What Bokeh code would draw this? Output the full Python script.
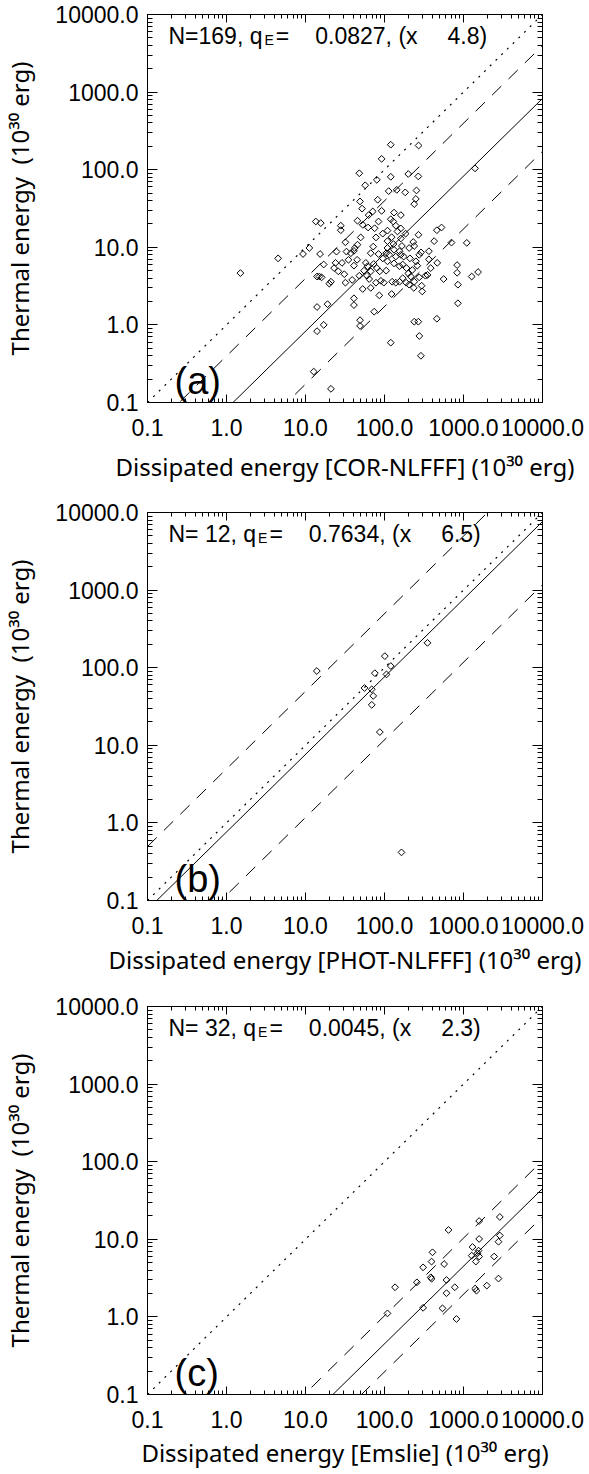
import numpy as np
from bokeh.plotting import figure
from bokeh.models import FixedTicker, LogAxis, CustomJSTickFormatter, Label, Range1d
from bokeh.layouts import column
from bokeh.embed import file_html
from bokeh.resources import INLINE

# ---------------- data ----------------
# panel (a): COR-NLFFF
a_x = [120, 270, 92, 1400, 48, 200, 268, 120, 80, 57,
       113, 143, 183, 254, 49, 82, 249, 238, 52, 71,
       92, 132, 161, 63, 13.5, 15.6, 28, 28, 45.5, 53,
       62, 84, 120, 129, 139, 146, 527, 460, 32, 50,
       78, 72, 45.5, 42, 123, 161, 109, 130, 166, 109,
       231, 238, 269, 425, 705, 1100, 11.2, 9.3, 15.3, 4.5,
       1.5, 24.7, 33, 37.5, 41, 67, 84, 105, 115, 139,
       161, 175, 210, 275, 365, 290, 365, 465, 830, 830,
       850, 850, 1270, 1530, 560, 350, 330, 275, 295, 300,
       235, 215, 200, 225, 190, 170, 155, 132, 109, 105,
       125, 139, 155, 123, 98, 90, 86, 74, 67, 53,
       48, 60, 64, 55, 61, 73, 58, 87, 41, 31,
       24, 29, 35, 17, 23, 26, 32, 39, 21, 20,
       15, 14, 16, 14, 19, 14, 17, 41, 41, 49,
       49, 12.7, 21, 120, 238, 268, 276, 289, 460, 188,
       170, 75, 95, 109, 161, 185, 132, 155, 205, 95,
       80, 67, 250, 260, 385, 238, 205, 45, 78]
a_y = [210, 205, 138, 104, 90, 88, 82, 81, 74, 63,
       53, 55, 51, 54, 39, 41, 42, 36, 31.5, 29,
       29.5, 28, 26, 26, 21.5, 20.5, 19, 16.6, 22, 19.5,
       18, 21.5, 23, 21.5, 19, 16, 18, 16.6, 11.6, 13.4,
       13.4, 10.2, 10.8, 9.8, 13.5, 13, 12, 11, 10.4, 9.8,
       11.7, 10.4, 14.5, 12, 11.5, 11.4, 9.8, 8.2, 8.2, 7.2,
       4.65, 8.8, 8.8, 8.4, 9.0, 8.4, 8.2, 8.4, 8.0, 7.6,
       8.0, 7.6, 7.2, 8.0, 8.9, 8.6, 7.0, 6.3, 5.9, 4.7,
       3.3, 1.9, 4.2, 4.8, 3.9, 4.4, 4.3, 4.1, 3.2, 2.7,
       3.0, 4.2, 4.6, 5.1, 5.4, 6.0, 5.7, 6.2, 6.6, 5.0,
       3.6, 3.5, 3.6, 2.5, 3.5, 3.7, 2.4, 1.48, 3.0, 2.9,
       4.3, 4.3, 3.9, 5.0, 5.7, 6.1, 6.3, 4.9, 5.8, 4.5,
       6.3, 6.3, 6.9, 6.0, 5.4, 4.9, 3.5, 3.8, 3.6, 3.4,
       4.2, 4.2, 4.1, 1.7, 1.85, 0.83, 1.0, 2.2, 1.8, 1.15,
       0.97, 0.25, 0.15, 0.59, 1.1, 1.1, 0.72, 0.40, 1.2, 3.5,
       4.0, 17.6, 15, 16.4, 17.5, 15, 9.3, 8.9, 9.8, 7.2,
       5.4, 4.9, 6.6, 5.8, 5.4, 3.6, 3.3, 6.9, 3.5]

# panel (b): PHOT-NLFFF
b_x = [13.9, 101, 120, 106, 75.5, 55.8, 69, 72, 69, 87.3, 350, 164]
b_y = [90.6, 141, 105, 82, 85, 54.8, 52.7, 43.3, 33.2, 14.8, 209, 0.417]

# panel (c): Emslie
c_x = [646, 1578, 2884, 1578, 2884, 2773, 1300, 1550, 1270, 1578,
       1432, 2444, 405, 394, 308, 569, 386, 394, 257, 609,
       136, 776, 609, 1406, 1460, 1973, 2773, 308, 542, 109,
       815, 1500]
c_y = [13.2, 17.2, 19.4, 10.1, 11.2, 9.3, 7.96, 7.15, 6.16, 6.0,
       5.16, 6.0, 6.8, 5.16, 4.35, 4.8, 3.24, 3.1, 2.79, 2.99,
       2.41, 2.41, 2.02, 2.32, 2.18, 2.53, 3.12, 1.31, 1.29, 1.11,
       0.94, 6.6]

q_E = [0.0827, 0.7634, 0.0045]          # ratio of the solid line
spread = [4.8, 6.5, 2.3]                  # factor of the dashed lines
x_titles = ["Dissipated energy [COR-NLFFF] (10\u00b3\u2070 erg)",
            "Dissipated energy [PHOT-NLFFF] (10\u00b3\u2070 erg)",
            "Dissipated energy [Emslie] (10\u00b3\u2070 erg)"]
y_title = "Thermal energy \u00a0(10\u00b3\u2070 erg)"
tags = ["(a)", "(b)", "(c)"]
major_ticks = [0.1, 1.0, 10.0, 100.0, 1000.0, 10000.0]

# ---------------- style ----------------
FONT = "Liberation Sans"
TITLE_FONT = "Noto Sans"
FW, FH = 395, 388
AX_MIN, AX_MAX = major_ticks[0], major_ticks[-1]
minor_ticks = [k * d for d in major_ticks[:-1] for k in range(2, 10)]

AW = {' ': 278, '\u00a0': 278, '(': 333, ')': 333, '[': 278, ']': 278, '-': 333,
      ',': 278, '.': 278, '=': 584,
      'A': 667, 'B': 667, 'C': 722, 'D': 722, 'E': 667, 'F': 611, 'G': 778,
      'H': 722, 'I': 278, 'J': 500, 'K': 667, 'L': 556, 'M': 833, 'N': 722,
      'O': 778, 'P': 667, 'Q': 778, 'R': 722, 'S': 667, 'T': 611, 'U': 722,
      'V': 667, 'W': 944, 'X': 667, 'Y': 667, 'Z': 611,
      'a': 556, 'b': 556, 'c': 500, 'd': 556, 'e': 556, 'f': 278, 'g': 556,
      'h': 556, 'i': 222, 'j': 222, 'k': 500, 'l': 222, 'm': 833, 'n': 556,
      'o': 556, 'p': 556, 'q': 556, 'r': 333, 's': 500, 't': 278, 'u': 556,
      'v': 500, 'w': 722, 'x': 500, 'y': 500, 'z': 500}


def tw(s, size):
    return sum(AW.get(ch, 556) for ch in s) / 1000.0 * size


def lab(p, text, x, y, size, align="left"):
    p.add_layout(Label(x=x, y=y, x_units="screen", y_units="screen", text=text,
                       text_font=FONT, text_font_size=f"{size}px", text_color="black",
                       text_align=align, text_baseline="alphabetic"))


def style_axis(ax, tin, mtin, labels):
    ax.ticker = FixedTicker(ticks=major_ticks, minor_ticks=minor_ticks)
    ax.axis_line_color = "black"
    ax.axis_line_width = 1
    ax.major_tick_in = tin
    ax.major_tick_out = 0
    ax.minor_tick_in = mtin
    ax.minor_tick_out = 0
    ax.major_tick_line_color = "black"
    ax.minor_tick_line_color = "black"
    ax.major_label_text_font = FONT
    ax.major_label_text_color = "black"
    ax.axis_label_text_font = TITLE_FONT
    ax.axis_label_text_font_style = "normal"
    ax.axis_label_text_color = "black"
    ax.axis_label_text_font_size = "24px"
    if labels:
        ax.formatter = CustomJSTickFormatter(code="return tick.toFixed(1)")
        ax.major_label_text_font_size = "23px"
    else:
        ax.formatter = CustomJSTickFormatter(code="return ''")
        ax.major_label_text_font_size = "8px"
        ax.major_label_standoff = 0


def panel(xs, ys, q, fac, xtitle, tag, top, bottom, title_gap):
    p = figure(x_axis_type="log", y_axis_type="log",
               x_range=Range1d(AX_MIN, AX_MAX), y_range=Range1d(AX_MIN, AX_MAX),
               frame_width=FW, frame_height=FH,
               min_border_left=147, min_border_right=47,
               min_border_top=top, min_border_bottom=bottom,
               output_backend="svg", toolbar_location=None,
               background_fill_color="white", border_fill_color="white")
    p.outline_line_color = "black"
    p.outline_line_width = 1
    p.grid.visible = False

    xa = p.xaxis[0]
    style_axis(xa, 8, 4, True)
    xa.major_label_standoff = 16
    xa.axis_label = xtitle
    xa.axis_label_standoff = title_gap
    ya = p.yaxis[0]
    style_axis(ya, 10, 5, True)
    ya.major_label_standoff = 9
    ya.axis_label = y_title
    ya.axis_label_standoff = 16

    top_ax = LogAxis()
    style_axis(top_ax, 8, 4, False)
    p.add_layout(top_ax, "above")
    right_ax = LogAxis()
    style_axis(right_ax, 10, 5, False)
    p.add_layout(right_ax, "right")

    lx = np.array([AX_MIN, AX_MAX])
    p.line(lx, lx, line_color="black", line_width=1.2, line_dash="2 6")
    p.line(lx, q * lx, line_color="black", line_width=1)
    p.line(lx, q * fac * lx, line_color="black", line_width=1, line_dash="13 10")
    p.line(lx, q / fac * lx, line_color="black", line_width=1, line_dash="13 10")

    p.scatter(xs, ys, marker="square", angle=np.pi / 4, size=4.8,
              fill_color=None, line_color="black", line_width=1)

    # statistics line at the top of the frame
    s1 = f"N={len(xs):3d}, q".replace("= ", "=\u00a0")
    x0, yb = 21, FH - 21
    lab(p, s1, x0, yb, 23)
    xe = x0 + tw(s1, 23) + 2
    lab(p, "E", xe, yb - 4, 14)
    xq = xe + tw("E", 14) + 2
    lab(p, "=", xq, yb, 23)
    xv = xq + tw("=", 23) + 26
    s_val = f"{q:.4f}, (x"
    lab(p, s_val, xv, yb, 23)
    xf = xv + tw(s_val, 23) + 30
    lab(p, f"{fac:.1f})", xf, yb, 23)

    # panel tag
    lab(p, tag, 27, 22, 38)
    return p


pa = panel(a_x, a_y, q_E[0], spread[0], x_titles[0], tags[0], 14, 92, 11)
pb = panel(b_x, b_y, q_E[1], spread[1], x_titles[1], tags[1], 18, 88, 6)
pc = panel(c_x, c_y, q_E[2], spread[2], x_titles[2], tags[2], 18, 80, 5)

layout = column(pa, pb, pc, spacing=0)
open("out.html", "w").write(file_html(layout, INLINE))
